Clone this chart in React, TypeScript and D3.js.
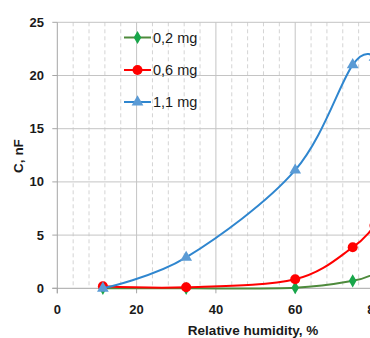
import React from "react";
import * as d3 from "d3";

// Capacitance versus relative humidity for three sample masses
const humidity = [11.5, 32.5, 60, 74.5, 80];
const series02 = [0, 0, 0.05, 0.7, 1.4];
const series06 = [0.2, 0.1, 0.85, 3.85, 5.9];
const series11 = [0, 2.9, 11.1, 21.0, 21.7];
const seriesNames = ["0,2 mg", "0,6 mg", "1,1 mg"];
const xTicks = [0, 20, 40, 60, 80];
const yTicks = [0, 5, 10, 15, 20, 25];

const W = 370;
const H = 338;
const left = 57.3;
const top = 22.3;
const bottom = 288.3;
const xEnd = 374.5;

const FONT = "'Liberation Sans', Arial, sans-serif";
const TEXT = "#1a1a1a";

export default function App() {
  const x = d3.scaleLinear().domain([0, 80]).range([left, xEnd]);
  const y = d3.scaleLinear().domain([0, 25]).range([bottom, top]);

  const line = d3
    .line<[number, number]>()
    .x((d) => x(d[0]))
    .y((d) => y(d[1]))
    .curve(d3.curveCardinal.tension(0));

  const pts = (vals: number[]) => humidity.map((h, i) => [h, vals[i]] as [number, number]);

  const minor = d3.range(4, 100, 4).filter((v) => v % 20 !== 0);
  const major = d3.range(20, 120, 20);

  const diamond = d3.symbol().type(d3.symbolDiamond).size(50)();
  const triangle = d3.symbol().type(d3.symbolTriangle).size(60)();

  const series = [
    { name: seriesNames[0], vals: series02, line: "#4e8a3c", fill: "#18a64a", shape: "diamond" },
    { name: seriesNames[1], vals: series06, line: "#ff0000", fill: "#ff0000", shape: "circle" },
    { name: seriesNames[2], vals: series11, line: "#2f86cf", fill: "#5b9bd5", shape: "triangle" },
  ];

  const marker = (shape: string, fill: string, cx: number, cy: number, key: string) => {
    if (shape === "circle") return <circle key={key} cx={cx} cy={cy} r={5} fill={fill} />;
    const d = shape === "diamond" ? diamond : triangle;
    return <path key={key} d={d!} transform={`translate(${cx},${cy})`} fill={fill} />;
  };

  const legendRows = [37.5, 70, 102];

  return (
    <svg width={W} height={H} style={{ position: "absolute", left: 0, top: 0, background: "#fff" }}>
      {/* minor vertical gridlines */}
      {minor.map((v) => (
        <line key={"mi" + v} x1={x(v)} x2={x(v)} y1={top} y2={bottom} stroke="#d4d4d4" strokeDasharray="4,3" strokeWidth={1} />
      ))}
      {/* major gridlines */}
      {major.map((v) => (
        <line key={"ma" + v} x1={x(v)} x2={x(v)} y1={top} y2={bottom} stroke="#c4c4c4" strokeWidth={1} />
      ))}
      {yTicks.filter((v) => v > 0).map((v) => (
        <line key={"h" + v} x1={left} x2={W} y1={y(v)} y2={y(v)} stroke="#c4c4c4" strokeWidth={1} />
      ))}
      {/* axes */}
      <line x1={left} x2={left} y1={top} y2={bottom + 5} stroke="#a6a6a6" />
      <line x1={left - 5} x2={W} y1={bottom} y2={bottom} stroke="#a6a6a6" />
      {yTicks.map((v) => (
        <g key={"yt" + v}>
          <line x1={left - 5} x2={left} y1={y(v)} y2={y(v)} stroke="#a6a6a6" />
          <text x={44} y={y(v)} dy="0.35em" textAnchor="end" fontFamily={FONT} fontWeight="bold" fontSize={13} fill={TEXT}>
            {v}
          </text>
        </g>
      ))}
      {xTicks.map((v) => (
        <g key={"xt" + v}>
          <line x1={x(v)} x2={x(v)} y1={bottom} y2={bottom + 5} stroke="#a6a6a6" />
          <text x={x(v)} y={309} dy="0.35em" textAnchor="middle" fontFamily={FONT} fontWeight="bold" fontSize={13} fill={TEXT}>
            {v}
          </text>
        </g>
      ))}
      <text x={253} y={330} dy="0.35em" textAnchor="middle" fontFamily={FONT} fontWeight="bold" fontSize={13.5} fill={TEXT}>
        Relative humidity, %
      </text>
      <text transform="translate(18,156) rotate(-90)" dy="0.35em" textAnchor="middle" fontFamily={FONT} fontWeight="bold" fontSize={13.5} fill={TEXT}>
        C, nF
      </text>

      {/* series */}
      {series.map((s) => (
        <g key={s.name}>
          <path d={line(pts(s.vals))!} fill="none" stroke={s.line} strokeWidth={2} />
          {pts(s.vals).map((p, i) => marker(s.shape, s.fill, x(p[0]), y(p[1]), s.name + i))}
        </g>
      ))}

      {/* legend */}
      {series.map((s, i) => (
        <g key={"lg" + s.name}>
          <line x1={124} x2={151} y1={legendRows[i]} y2={legendRows[i]} stroke={s.line} strokeWidth={2} />
          {marker(s.shape, s.fill, 137.5, legendRows[i], "lm" + i)}
          <text x={153} y={legendRows[i]} dy="0.35em" fontFamily={FONT} fontSize={14.5} fill={TEXT}>
            {s.name}
          </text>
        </g>
      ))}
    </svg>
  );
}
